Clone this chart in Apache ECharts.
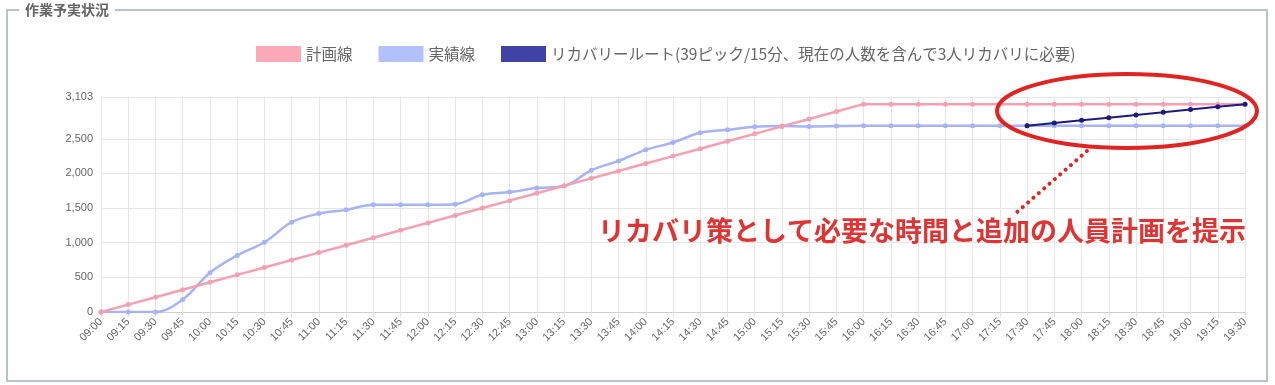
<!DOCTYPE html>
<html>
<head>
<meta charset="utf-8">
<script src="https://cdn.jsdelivr.net/npm/echarts@6/dist/echarts.min.js"></script>
<style>
html,body{margin:0;padding:0;background:#fff;}
#chart{width:1275px;height:385px;}
</style>
</head>
<body>
<div id="chart"></div>
<script>
const categories = ['09:00','09:15','09:30','09:45','10:00','10:15','10:30','10:45','11:00','11:15','11:30','11:45','12:00','12:15','12:30','12:45','13:00','13:15','13:30','13:45','14:00','14:15','14:30','14:45','15:00','15:15','15:30','15:45','16:00','16:15','16:30','16:45','17:00','17:15','17:30','17:45','18:00','18:15','18:30','18:45','19:00','19:15','19:30'];
const planValues = [0,107,214,321,429,536,643,750,857,964,1071,1179,1286,1393,1500,1607,1714,1821,1929,2036,2143,2250,2357,2464,2571,2679,2786,2893,3000,3000,3000,3000,3000,3000,3000,3000,3000,3000,3000,3000,3000,3000,3000];
const actualValues = [0,0,0,180,566,817,1006,1296,1421,1474,1547,1547,1547,1556,1692,1731,1789,1818,2045,2180,2340,2446,2586,2630,2673,2683,2678,2683,2688,2688,2688,2688,2688,2688,2688,2688,2688,2688,2688,2688,2688,2688,2688];
const recoveryStart = '17:30';
const recoveryValues = [2688,2727,2766,2805,2844,2883,2922,2961,3000];
const yTicks = [0,500,1000,1500,2000,2500,3103];
const yMax = 3103;
const seriesNames = ['計画線','実績線','リカバリールート(39ピック/15分、現在の人数を含んで3人リカバリに必要)'];
const frameTitle = '作業予実状況';
const noteText = 'リカバリ策として必要な時間と追加の人員計画を提示';

const startIdx = categories.indexOf(recoveryStart);
const recoveryData = categories.map((c, i) => (i >= startIdx && i - startIdx < recoveryValues.length) ? recoveryValues[i - startIdx] : null);

const chart = echarts.init(document.getElementById('chart'), null, {renderer: 'canvas'});
const axisFont = "'Liberation Sans', Arial, sans-serif";
const jpFont = "'Noto Sans CJK JP', sans-serif";

chart.setOption({
  animation: false,
  backgroundColor: '#fff',
  textStyle: {fontFamily: jpFont},
  legend: {
    top: 41,
    left: 251,
    icon: 'rect',
    itemWidth: 45,
    itemHeight: 16,
    itemGap: 26,
    textStyle: {fontSize: 15.5, color: '#666', fontFamily: jpFont},
    data: [
      {name: seriesNames[0], itemStyle: {color: '#fcaaba', borderWidth: 0}},
      {name: seriesNames[1], itemStyle: {color: '#b2c0fc', borderWidth: 0}},
      {name: seriesNames[2], itemStyle: {color: '#4042a6', borderWidth: 0}}
    ]
  },
  grid: {left: 101, right: 30, top: 97, bottom: 73, containLabel: false},
  xAxis: {
    type: 'category',
    data: categories,
    boundaryGap: false,
    axisLine: {lineStyle: {color: '#cfcfcf', width: 1}},
    axisTick: {show: true, length: 5, lineStyle: {color: '#e2e2e2'}},
    axisLabel: {rotate: 45, fontSize: 11, color: '#666', fontFamily: axisFont, margin: 8, interval: 0},
    splitLine: {show: true, lineStyle: {color: '#e6e6e6', width: 1}}
  },
  yAxis: {
    type: 'value',
    min: 0,
    max: yMax,
    axisLine: {show: false},
    axisTick: {show: false, customValues: yTicks},
    axisLabel: {fontSize: 11, color: '#666', fontFamily: axisFont, margin: 8, customValues: yTicks,
      formatter: v => Number(v).toLocaleString('en-US')},
    splitLine: {show: true, lineStyle: {color: '#e6e6e6', width: 1}}
  },
  series: [
    {
      name: seriesNames[0], type: 'line', data: planValues, z: 3,
      symbol: 'circle', symbolSize: 5,
      itemStyle: {color: '#f59fb2'},
      lineStyle: {color: '#f59fb2', width: 2.5}
    },
    {
      name: seriesNames[1], type: 'line', data: actualValues, z: 2,
      smooth: 0.35,
      symbol: 'circle', symbolSize: 5,
      itemStyle: {color: '#a7b3f5'},
      lineStyle: {color: '#a7b3f5', width: 2.5}
    },
    {
      name: seriesNames[2], type: 'line', data: recoveryData, z: 4,
      symbol: 'circle', symbolSize: 5,
      itemStyle: {color: '#1c1c7c'},
      lineStyle: {color: '#1c1c7c', width: 2}
    }
  ],
  graphic: [
    {type: 'rect', z: 0, silent: true,
      shape: {x: 7, y: 10, width: 1260, height: 371},
      style: {fill: null, stroke: '#b6c2ce', lineWidth: 2}},
    {type: 'text', z: 10, silent: true, left: 19, top: 1,
      style: {text: frameTitle, fontSize: 14, fontWeight: 'bold', fill: '#666', fontFamily: jpFont,
        backgroundColor: '#fff', padding: [0, 6, 0, 6], lineHeight: 18}},
    {type: 'ellipse', z: 20, silent: true,
      shape: {cx: 1127, cy: 111, rx: 130, ry: 37},
      style: {fill: null, stroke: '#e02424', lineWidth: 4}},
    {type: 'line', z: 20, silent: true,
      shape: {x1: 1087, y1: 151, x2: 1016, y2: 213},
      style: {stroke: '#e02424', lineWidth: 4, lineDash: [0.1, 7], lineCap: 'round'}},
    {type: 'text', z: 20, silent: true, left: 598, top: 217,
      style: {text: noteText, fontSize: 27, fontWeight: 'bold', fill: '#e03434', fontFamily: jpFont}}
  ]
});
</script>
</body>
</html>
